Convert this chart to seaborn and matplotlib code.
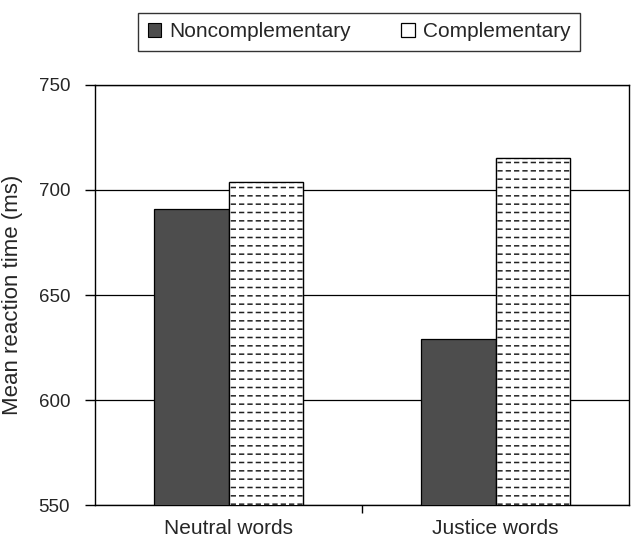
import matplotlib
matplotlib.use("Agg")
import matplotlib.pyplot as plt
import seaborn as sns
import pandas as pd
from matplotlib.patches import Patch, Rectangle

categories = ["Neutral words", "Justice words"]
conditions = ["Noncomplementary", "Complementary"]
noncomplementary = [691, 629]
complementary = [704, 715]
yticks = [550, 600, 650, 700, 750]

df = pd.DataFrame({
    "category": categories * 2,
    "condition": [conditions[0]] * 2 + [conditions[1]] * 2,
    "value": noncomplementary + complementary,
})

sns.set_theme(style="white")
plt.rcParams["font.family"] = ["Liberation Sans", "DejaVu Sans"]
plt.rcParams["hatch.linewidth"] = 1.1

fig = plt.figure(figsize=(6.31, 5.40), dpi=100)
ax = fig.add_axes([0.1506, 0.0648, 0.8464, 0.7778])

sns.barplot(data=df, x="category", y="value", hue="condition",
            order=categories, hue_order=conditions,
            palette=["#4d4d4d", "white"], width=0.56,
            edgecolor="black", linewidth=0.9, ax=ax, legend=False,
            zorder=3)

# dashed-line fill for the complementary bars, built on the drawn bars' geometry
for bar in ax.containers[1]:
    bar.set_hatch("--")
    bar.set_edgecolor("#222222")
    x, y = bar.get_xy()
    w, h = bar.get_width(), bar.get_height()
    breaker = Rectangle((x, y), w, h, facecolor="none", edgecolor="white",
                        linewidth=0, hatch="||", zorder=3.5)
    try:
        breaker.set_hatch_linewidth(2.2)
    except AttributeError:
        pass
    ax.add_patch(breaker)
    outline = Rectangle((x, y), w, h, facecolor="none", edgecolor="black",
                        linewidth=0.9, zorder=4)
    ax.add_patch(outline)

ax.set_ylim(550, 750)
ax.set_yticks(yticks)
ax.set_xlim(-0.5, 1.5)
ax.yaxis.grid(True, color="black", linewidth=0.9, zorder=0)
ax.set_axisbelow(True)
for s in ax.spines.values():
    s.set_visible(True)
    s.set_color("black")
    s.set_linewidth(1.0)

ax.tick_params(axis="y", which="major", direction="out", length=7, width=1,
               color="black", labelsize=13.5, pad=11, left=True)
ax.tick_params(axis="x", which="major", length=0, labelsize=15, pad=10)
ax.set_xticks([0.5], minor=True)
ax.tick_params(axis="x", which="minor", direction="out", length=6, width=1,
               color="black", bottom=True)
ax.set_xlabel("")
ax.set_ylabel("Mean reaction time (ms)", fontsize=16, labelpad=11)

handles = [Patch(facecolor="#4d4d4d", edgecolor="black", linewidth=0.8),
           Patch(facecolor="white", edgecolor="black", linewidth=0.9)]
leg = fig.legend(handles, conditions, loc="center", bbox_to_anchor=(0.569, 0.941),
                 ncol=2, fontsize=15, frameon=True, fancybox=False,
                 edgecolor="black", handlelength=0.65, handleheight=0.65,
                 handletextpad=0.4, columnspacing=2.4, borderpad=0.45)
leg.get_frame().set_linewidth(1.0)

fig.savefig("out.png", dpi=100)
